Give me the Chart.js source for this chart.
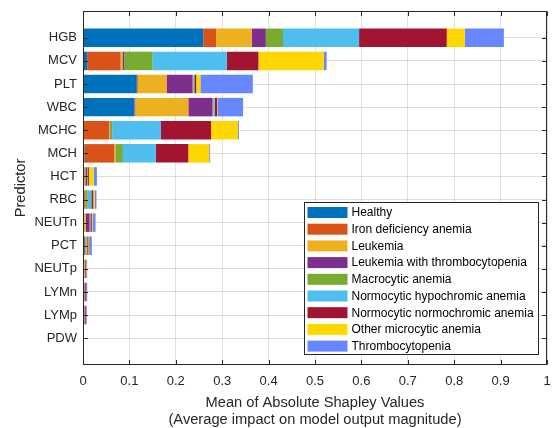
<!DOCTYPE html>
<html>
<head>
<meta charset="utf-8">
<script src="https://cdn.jsdelivr.net/npm/chart.js@4.4.1/dist/chart.umd.min.js"></script>
<style>
  html, body { margin: 0; padding: 0; background: #ffffff; }
  #wrap { width: 553px; height: 428px; }
</style>
</head>
<body>
<div id="wrap"><canvas id="c" width="553" height="428"></canvas></div>
<script>
// Predictors, top to bottom
const predictors = ['HGB', 'MCV', 'PLT', 'WBC', 'MCHC', 'MCH', 'HCT', 'RBC', 'NEUTn', 'PCT', 'NEUTp', 'LYMn', 'LYMp', 'PDW'];

// Class names (stack order, left to right)
const classNames = [
  'Healthy',
  'Iron deficiency anemia',
  'Leukemia',
  'Leukemia with thrombocytopenia',
  'Macrocytic anemia',
  'Normocytic hypochromic anemia',
  'Normocytic normochromic anemia',
  'Other microcytic anemia',
  'Thrombocytopenia'
];

// Mean |SHAP| per class, one value per predictor
const healthy    = [0.259, 0.009, 0.116, 0.111, 0.001, 0.003, 0.001, 0.001, 0.001, 0.004, 0.001, 0.001, 0.001, 0.000];
const ironDef    = [0.028, 0.072, 0.002, 0.002, 0.055, 0.064, 0.002, 0.003, 0.001, 0.001, 0.001, 0.001, 0.001, 0.000];
const leukemia   = [0.077, 0.004, 0.062, 0.114, 0.002, 0.003, 0.002, 0.001, 0.004, 0.004, 0.002, 0.001, 0.001, 0.001];
const leukThromb = [0.030, 0.004, 0.056, 0.052, 0.001, 0.001, 0.004, 0.001, 0.008, 0.002, 0.002, 0.003, 0.003, 0.000];
const macrocytic = [0.037, 0.061, 0.002, 0.002, 0.004, 0.015, 0.001, 0.004, 0.001, 0.001, 0.000, 0.000, 0.000, 0.000];
const normoHypo  = [0.164, 0.160, 0.002, 0.003, 0.105, 0.071, 0.001, 0.008, 0.001, 0.001, 0.000, 0.000, 0.000, 0.000];
const normoNormo = [0.189, 0.068, 0.004, 0.005, 0.108, 0.070, 0.002, 0.004, 0.003, 0.001, 0.001, 0.001, 0.001, 0.000];
const otherMicro = [0.039, 0.141, 0.009, 0.001, 0.058, 0.045, 0.010, 0.003, 0.002, 0.001, 0.001, 0.000, 0.000, 0.001];
const thrombo    = [0.084, 0.006, 0.113, 0.055, 0.002, 0.002, 0.007, 0.004, 0.006, 0.004, 0.001, 0.002, 0.001, 0.000];

const classValues = [healthy, ironDef, leukemia, leukThromb, macrocytic, normoHypo, normoNormo, otherMicro, thrombo];

const classColors = ['#0072BD', '#D95319', '#EDB120', '#7E2F8E', '#77AC30', '#4DBEEE', '#A2142F', '#FFD700', '#6687FF'];

// x-axis tick values
const xTicks = [0, 0.1, 0.2, 0.3, 0.4, 0.5, 0.6, 0.7, 0.8, 0.9, 1];

const FONT = '"Liberation Sans", Arial, Helvetica, sans-serif';
const AXIS_COLOR = '#262626';
const GRID_COLOR = 'rgba(38,38,38,0.15)';

const datasets = classValues.map((vals, k) => ({
  label: classNames[k],
  data: vals.map((v, i) => ({ x: v, y: i })),
  backgroundColor: classColors[k],
  borderWidth: 0,
  barPercentage: 0.8,
  categoryPercentage: 1.0
}));

// Box around the axes, inward tick marks, and the boxed legend
const axesBox = {
  id: 'axesBox',
  afterDatasetsDraw(chart) {
    const { ctx, chartArea: a, scales } = chart;
    const xs = scales.x, ys = scales.y;
    const L = Math.round(a.left) + 0.5, R = Math.round(a.right) - 0.5;
    const T = Math.round(a.top) + 0.5, B = Math.round(a.bottom) - 0.5;
    ctx.save();
    ctx.strokeStyle = AXIS_COLOR;
    ctx.lineWidth = 1;
    ctx.beginPath();
    const tl = 4.5;
    xs.ticks.forEach(t => {
      const px = Math.round(xs.getPixelForValue(t.value)) + 0.5;
      ctx.moveTo(px, B); ctx.lineTo(px, B - tl);
      ctx.moveTo(px, T); ctx.lineTo(px, T + tl);
    });
    ys.ticks.forEach(t => {
      const py = Math.round(ys.getPixelForValue(t.value)) + 0.5;
      ctx.moveTo(L, py); ctx.lineTo(L + tl, py);
      ctx.moveTo(R, py); ctx.lineTo(R - tl, py);
    });
    ctx.stroke();
    ctx.strokeRect(L, T, R - L, B - T);
    ctx.restore();
  },
  afterDraw(chart) {
    const { ctx, chartArea: a } = chart;
    const w = 234, h = 152;
    const bx = Math.round(a.right - 9 - w) + 0.5;
    const by = Math.round(a.bottom - 11 - h) + 0.5;
    ctx.save();
    ctx.fillStyle = '#ffffff';
    ctx.fillRect(bx, by, w, h);
    ctx.strokeStyle = AXIS_COLOR;
    ctx.lineWidth = 1;
    ctx.strokeRect(bx, by, w, h);
    const rowH = 16.7;
    ctx.font = '12px ' + FONT;
    ctx.textBaseline = 'middle';
    ctx.textAlign = 'left';
    chart.data.datasets.forEach((ds, i) => {
      const cy = by + 10 + rowH * i;
      ctx.fillStyle = ds.backgroundColor;
      ctx.fillRect(bx + 3, cy - 5.5, 40, 11);
      ctx.fillStyle = '#000000';
      ctx.fillText(ds.label, bx + 47, cy + 0.5);
    });
    ctx.restore();
  }
};

new Chart(document.getElementById('c'), {
  type: 'bar',
  data: { datasets },
  options: {
    indexAxis: 'y',
    responsive: false,
    animation: false,
    layout: { padding: { top: 11, right: 6, left: 0, bottom: 0 } },
    plugins: {
      legend: { display: false },
      tooltip: { enabled: false }
    },
    scales: {
      x: {
        type: 'linear',
        stacked: true,
        min: 0,
        max: 1,
        afterBuildTicks(s) { s.ticks = xTicks.map(v => ({ value: v })); },
        afterFit(s) { s.height = 63; s.paddingLeft = 0; s.paddingRight = 0; },
        ticks: {
          color: AXIS_COLOR,
          font: { family: FONT, size: 13 },
          padding: 9,
          maxRotation: 0,
          autoSkip: false,
          callback: v => String(+v.toFixed(1))
        },
        grid: { color: GRID_COLOR, lineWidth: 1, drawTicks: false, offset: false },
        border: { display: false },
        title: {
          display: true,
          text: ['Mean of Absolute Shapley Values', '(Average impact on model output magnitude)'],
          color: AXIS_COLOR,
          font: { family: FONT, size: 14.67, lineHeight: '16.5px' },
          padding: { top: 0, bottom: 0 }
        }
      },
      y: {
        type: 'linear',
        stacked: true,
        reverse: true,
        offset: false,
        min: -1.16,
        max: predictors.length - 1 + 1.16,
        afterBuildTicks(s) { s.ticks = predictors.map((_, i) => ({ value: i })); },
        afterFit(s) { s.width = 83; s.paddingTop = 0; s.paddingBottom = 0; },
        ticks: {
          color: AXIS_COLOR,
          font: { family: FONT, size: 13 },
          padding: 6,
          autoSkip: false,
          callback: v => predictors[v]
        },
        grid: { color: GRID_COLOR, lineWidth: 1, drawTicks: false, offset: false },
        border: { display: false },
        title: {
          display: true,
          text: 'Predictor',
          color: AXIS_COLOR,
          font: { family: FONT, size: 14.67, lineHeight: '16px' },
          padding: { top: 13, bottom: 0 }
        }
      }
    }
  },
  plugins: [axesBox]
});
</script>
</body>
</html>
